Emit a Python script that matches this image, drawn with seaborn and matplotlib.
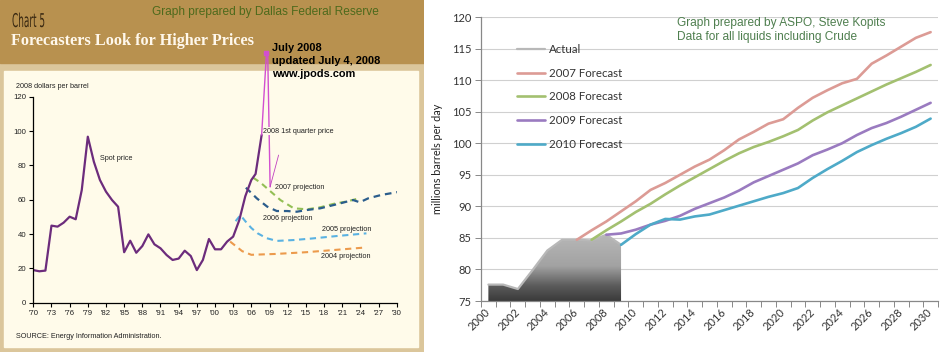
"""  Oil price forecasts (Dallas Fed) next to world liquids forecasts (ASPO)  """
import matplotlib
matplotlib.use('Agg')
import matplotlib.pyplot as plt
from matplotlib.colors import LinearSegmentedColormap
from matplotlib.font_manager import FontProperties
from matplotlib.patches import PathPatch, Rectangle
from matplotlib.textpath import TextPath
from matplotlib.transforms import Affine2D, ScaledTranslation
import numpy as np
import seaborn as sns

# ~~~~~~~~~  Left chart data: 2008 dollars per barrel  ~~~~~~~~~ #
spot_years = list(range(1970, 2007)) + [2006.7, 2007.7]
spot_price = [19.0, 18.3, 18.7, 44.9, 44.3, 46.6, 50.1, 48.6, 65.6, 96.7,
              82.1, 71.5, 64.7, 59.8, 55.9, 29.4, 36.1, 29.1, 33.0, 39.8,
              34.0, 31.7, 27.8, 24.9, 25.7, 30.3, 27.2, 19.0, 24.9, 37.1,
              31.1, 31.1, 35.6, 38.5, 48.0, 62.0, 71.5, 75.0, 97.7]

proj2004_years = [2002.5, 2003.5, 2004.5, 2006, 2010, 2015, 2020, 2025]
proj2004 = [35.6, 32.8, 30.0, 27.9, 28.4, 29.4, 30.8, 32.2]

proj2005_years = [2003.4, 2004.2, 2005, 2006, 2007, 2008.5, 2010.2, 2013, 2016, 2020, 2025]
proj2005 = [47.5, 51.0, 47.5, 43.5, 40.5, 37.6, 36.0, 36.5, 37.4, 38.8, 40.4]

proj2006_years = [2005.1, 2006.9, 2008.6, 2010.2, 2011.9, 2013.5, 2015.2, 2017.4,
                  2019.6, 2021.8, 2022.8, 2023.9, 2025.3, 2027.5, 2030.1]
proj2006 = [67.0, 60.8, 56.0, 53.4, 53.4, 53.0, 54.0, 55.0,
            56.9, 58.9, 59.8, 58.5, 60.8, 62.8, 64.4]

proj2007_years = [2006.3, 2007.5, 2008.6, 2010.8, 2013.0, 2015.2, 2017.4, 2019.6, 2021.8, 2024.0]
proj2007 = [72.8, 70.0, 66.6, 59.8, 55.0, 54.4, 55.6, 57.6, 59.0, 61.0]

# hand drawn jpods mark: July 2008 spike, then drop
jpods_years = [2007.7, 2008.5, 2008.7, 2009.1]
jpods_price = [97.7, 145.6, 145.6, 67.5]
jpods_tail_years = [2009.1, 2010.5]
jpods_tail_price = [67.5, 86.0]

# ~~~~~~~~~  Right chart data: millions barrels per day  ~~~~~~~~~ #
actual_years = list(range(2000, 2010))
actual = [77.6, 77.6, 76.9, 79.9, 83.0, 84.7, 84.7, 84.6, 85.5, 83.9]

f2007_years = list(range(2006, 2031))
f2007 = [84.7, 86.2, 87.6, 89.2, 90.8, 92.6, 93.7, 95.0, 96.3, 97.4,
         98.9, 100.6, 101.8, 103.1, 103.8, 105.6, 107.2, 108.4, 109.5, 110.2,
         112.6, 113.9, 115.3, 116.7, 117.6]

f2008_years = list(range(2007, 2031))
f2008 = [84.7, 86.2, 87.6, 89.1, 90.4, 91.9, 93.3, 94.6, 95.9, 97.2,
         98.4, 99.4, 100.2, 101.1, 102.1, 103.6, 104.9, 106.0, 107.1, 108.2,
         109.3, 110.3, 111.3, 112.4]

f2009_years = list(range(2008, 2031))
f2009 = [85.5, 85.7, 86.3, 87.1, 87.7, 88.5, 89.6, 90.5, 91.4, 92.5,
         93.8, 94.8, 95.8, 96.8, 98.1, 99.0, 100.0, 101.3, 102.4, 103.2,
         104.2, 105.3, 106.4]

f2010_years = list(range(2009, 2031))
f2010 = [83.9, 85.6, 87.1, 88.0, 87.9, 88.4, 88.7, 89.4, 90.1, 90.8,
         91.5, 92.1, 92.9, 94.5, 95.9, 97.2, 98.6, 99.7, 100.7, 101.6,
         102.6, 103.9]

arial = ['Liberation Sans', 'DejaVu Sans']
small = 5.2  # tiny print of the Dallas Fed chart

sns.set_theme(style='white')
plt.rcParams['font.family'] = ['Lato', 'DejaVu Sans']

W, H = 941, 352
fig = plt.figure(figsize=(W / 100, H / 100), dpi=100)
fig.patch.set_facecolor('white')

# ~~~~~~~~~  Left panel background (pixel units)  ~~~~~~~~~ #
bg = fig.add_axes([0, 0, 424 / W, 1])
bg.set_xlim(0, 424)
bg.set_ylim(H, 0)
bg.axis('off')
bg.add_patch(Rectangle((0, 0), 424, H, color='#dbc69b'))
bg.add_patch(Rectangle((0, 0), 424, 63, color='#b8914f'))
bg.add_patch(Rectangle((4, 71), 414, 276, color='#fffbea'))

# condensed "Chart 5" heading: squeeze a text path sideways
tp = TextPath((0, 0), 'Chart 5', size=19, prop=FontProperties(family='DejaVu Sans'))
squeeze = Affine2D().scale(0.47, -1).translate(12, 27)
bg.add_patch(PathPatch(tp, transform=squeeze + bg.transData, facecolor='#3a2912',
                       edgecolor='none'))
bg.text(11, 41, 'Forecasters Look for Higher Prices', family=['Liberation Serif', 'DejaVu Serif'],
        weight='bold', size=11.7, color='#fff8ec', va='center')
bg.text(152, 12, 'Graph prepared by Dallas Federal Reserve', family=arial, size=8.6,
        color='#4d6a1c', va='center')
for y, line in zip([48, 61, 74], ['July 2008', 'updated July 4, 2008', 'www.jpods.com']):
    bg.text(272, y, line, family=arial, weight='bold', size=7.9, color='black', va='center')
bg.text(16, 86, '2008 dollars per barrel', family=arial, size=small, color='#222', va='center')
bg.text(16, 336, 'SOURCE: Energy Information Administration.', family=arial, size=small,
        color='#222', va='center')

# ~~~~~~~~~  Left chart  ~~~~~~~~~ #
ax1 = fig.add_axes([33.3 / W, 49.3 / H, 363.4 / W, 206 / H])
ax1.patch.set_alpha(0)
dash = (0, (3, 2.2))
sns.lineplot(x=proj2004_years, y=proj2004, ax=ax1, color='#ec9a4c', lw=1.5, linestyle=dash)
sns.lineplot(x=proj2005_years, y=proj2005, ax=ax1, color='#5ab2e2', lw=1.5, linestyle=dash)
sns.lineplot(x=proj2007_years, y=proj2007, ax=ax1, color='#93bf55', lw=1.5, linestyle=dash)
sns.lineplot(x=proj2006_years, y=proj2006, ax=ax1, color='#2b5d8c', lw=1.6, linestyle=dash)
sns.lineplot(x=spot_years, y=spot_price, ax=ax1, color='#6c2c7c', lw=1.6, sort=False)
ax1.plot(jpods_years, jpods_price, color='#d24fd0', lw=1.0, clip_on=False, zorder=4)
ax1.plot(jpods_tail_years, jpods_tail_price, color='#c040c0', lw=0.6, clip_on=False, zorder=4)
ax1.plot([jpods_years[1]], [jpods_price[1]], 's', color='#d24fd0', ms=3, clip_on=False, zorder=4)

lab = dict(family=arial, size=small, color='#222', va='center', ha='left')
ax1.text(1981.0, 84, 'Spot price', **lab)
ax1.text(2008.0, 100, '2008 1st quarter price', zorder=5,
         bbox=dict(facecolor='#fffbea', edgecolor='none', pad=0.3), **lab)
ax1.text(2009.9, 67, '2007 projection', **lab)
ax1.text(2008.0, 49.2, '2006 projection', **lab)
ax1.text(2017.6, 42.9, '2005 projection', **lab)
ax1.text(2017.5, 26.8, '2004 projection', **lab)

ax1.set_xlim(1970, 2030)
ax1.set_ylim(0, 120)
ax1.set_xticks(range(1970, 2031, 3))
ax1.set_xticklabels([f"'{y % 100:02d}" for y in range(1970, 2031, 3)])
ax1.set_yticks(range(0, 121, 20))
ax1.set(xlabel='', ylabel='')
for side in ['top', 'right']:
    ax1.spines[side].set_visible(False)
for side in ['left', 'bottom']:
    ax1.spines[side].set_color('black')
    ax1.spines[side].set_linewidth(0.9)
ax1.tick_params(direction='out', length=3, width=0.8, color='black', pad=2,
                labelsize=5.6, labelcolor='#222', left=True, bottom=True)
for t in ax1.get_xticklabels() + ax1.get_yticklabels():
    t.set_family(arial)

# ~~~~~~~~~  Right chart  ~~~~~~~~~ #
ax2 = fig.add_axes([481 / W, 51 / H, 457 / W, 284 / H])
ax2.set_facecolor('white')
ax2.yaxis.grid(True, color='#d0d0d0', lw=0.8)
ax2.set_axisbelow(True)

# grey gradient area for the actual production
cmap = LinearSegmentedColormap.from_list('actual', [(0, '#3a3a3a'), (0.22, '#5c5c5c'),
                                                     (0.5, '#a2a2a2'), (1, '#bababa')])
grad = np.linspace(0, 1, 256).reshape(-1, 1)
im = ax2.imshow(grad, extent=[1999.5, 2009.5, 75, 86], origin='lower', aspect='auto',
                cmap=cmap, zorder=1.5)
area = ax2.fill_between(actual_years, 75, actual, facecolor='none', edgecolor='none')
im.set_clip_path(area.get_paths()[0], transform=ax2.transData)

sns.lineplot(x=actual_years, y=actual, ax=ax2, color='#b8b8b8', lw=1.6, label='Actual')
sns.lineplot(x=f2007_years, y=f2007, ax=ax2, color='#dc9b95', lw=1.9, label='2007 Forecast')
sns.lineplot(x=f2008_years, y=f2008, ax=ax2, color='#a3c070', lw=1.9, label='2008 Forecast')
sns.lineplot(x=f2009_years, y=f2009, ax=ax2, color='#9a7bc0', lw=1.9, label='2009 Forecast')
sns.lineplot(x=f2010_years, y=f2010, ax=ax2, color='#4eaac8', lw=1.9, label='2010 Forecast')

ax2.set_xlim(1999.5, 2030.5)
ax2.set_ylim(75, 120)
ax2.set_yticks(range(75, 121, 5))
ax2.set_xticks(range(2000, 2031, 2))
ax2.set_xticks(np.arange(1999.5, 2031, 1), minor=True)
ax2.set_xticklabels([str(y) for y in range(2000, 2031, 2)], rotation=45, ha='right',
                    va='center', rotation_mode='anchor')
shift = ScaledTranslation(5 / 100, 0, fig.dpi_scale_trans)
for t in ax2.get_xticklabels():
    t.set_transform(t.get_transform() + shift)
ax2.set_xlabel('')
ax2.set_ylabel('millions barrels per day', fontsize=7.8, color='#222', labelpad=6)
for side in ['top', 'right']:
    ax2.spines[side].set_visible(False)
for side in ['left', 'bottom']:
    ax2.spines[side].set_color('#888888')
    ax2.spines[side].set_linewidth(0.9)
ax2.tick_params(axis='x', which='major', length=0, pad=7, labelsize=8, labelcolor='#333')
ax2.tick_params(axis='x', which='minor', bottom=True, direction='out', length=4,
                width=0.7, color='#888888')
ax2.tick_params(axis='y', left=True, direction='out', length=4, width=0.7, color='#888888',
                pad=3, labelsize=8, labelcolor='#333')

ax2.legend(loc='upper left', bbox_to_anchor=(0.079, 0.905), frameon=False, fontsize=8.3,
           handlelength=2.4, handletextpad=0.35, labelspacing=1.1, borderpad=0,
           borderaxespad=0, labelcolor='#333')

fig.text(677 / W, 1 - 23 / H, 'Graph prepared by ASPO, Steve Kopits', family=arial,
         size=8.6, color='#4f7f4f', va='center')
fig.text(677 / W, 1 - 37 / H, 'Data for all liquids including Crude', family=arial,
         size=8.6, color='#4f7f4f', va='center')

fig.savefig('out.png', dpi=100)
